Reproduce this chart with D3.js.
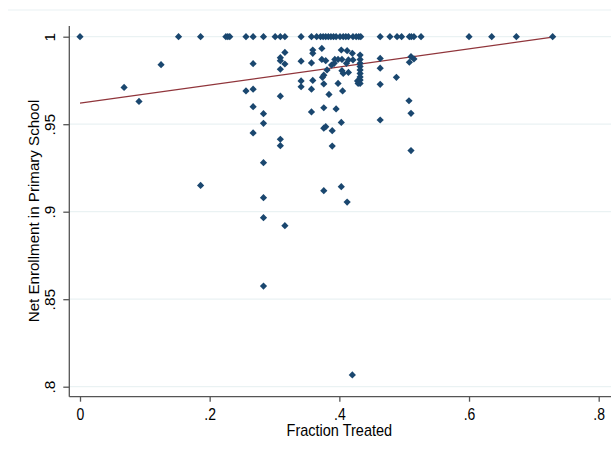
<!DOCTYPE html>
<html>
<head>
<meta charset="utf-8">
<script src="https://cdn.jsdelivr.net/npm/d3@7"></script>
<style>
  body { margin: 0; background: #fff; }
  text { font-family: "Liberation Sans", Arial, sans-serif; fill: #000; }
</style>
</head>
<body>
<div class="scatter-plot"></div>
<script>
// points sitting on the top row (enrollment = 1)
const topRowFrac = [0, 0.152, 0.186, 0.225, 0.228, 0.231, 0.256, 0.267, 0.283, 0.301, 0.309, 0.316,
    0.341, 0.357, 0.365, 0.371, 0.375, 0.379, 0.383, 0.387, 0.391, 0.395, 0.401, 0.406, 0.410,
    0.414, 0.421, 0.426, 0.430, 0.433, 0.463, 0.478, 0.489, 0.496, 0.508, 0.511, 0.515, 0.526,
    0.600, 0.635, 0.673, 0.729];

// remaining points
const fracTreated = [0.068, 0.091, 0.125, 0.186,
    0.256, 0.267, 0.267, 0.267, 0.267,
    0.283, 0.283, 0.283, 0.283, 0.283, 0.283,
    0.309, 0.309, 0.309, 0.309, 0.309, 0.309,
    0.316, 0.316, 0.316,
    0.341, 0.341, 0.341,
    0.359, 0.359, 0.357, 0.359, 0.357, 0.357,
    0.373, 0.373, 0.379, 0.381, 0.376, 0.374, 0.376, 0.384, 0.376, 0.376, 0.379, 0.389, 0.389, 0.395, 0.376,
    0.388, 0.393, 0.398, 0.392, 0.398,
    0.403, 0.412, 0.420,
    0.404, 0.414, 0.421, 0.411, 0.404, 0.406, 0.414, 0.405, 0.403, 0.403, 0.412, 0.420,
    0.432, 0.432, 0.432, 0.432, 0.432, 0.432, 0.432, 0.432, 0.432, 0.428, 0.429,
    0.463, 0.463, 0.463, 0.463, 0.488,
    0.508, 0.5105, 0.515, 0.5074, 0.5105, 0.5105];
const enrollment = [0.971, 0.963, 0.984, 0.915,
    0.969, 0.9846, 0.970, 0.960, 0.945,
    0.956, 0.9505, 0.928, 0.908, 0.8966, 0.8575,
    0.988, 0.9863, 0.9814, 0.966, 0.9414, 0.9377,
    0.991, 0.9844, 0.892,
    0.986, 0.9747, 0.9714,
    0.9924, 0.9905, 0.985, 0.975, 0.970, 0.957,
    0.9933, 0.987, 0.9863, 0.981, 0.978, 0.9768, 0.973, 0.967, 0.9594, 0.9477, 0.9486, 0.9463, 0.9375, 0.9587, 0.912,
    0.9838, 0.987, 0.987, 0.9848, 0.9733,
    0.9924, 0.992, 0.9905,
    0.987, 0.9867, 0.9867, 0.9848, 0.9806, 0.979, 0.9796, 0.969, 0.951, 0.9143, 0.9055, 0.8067,
    0.9895, 0.987, 0.9848, 0.983, 0.981, 0.979, 0.977, 0.9752, 0.9733, 0.9747, 0.9733,
    0.9876, 0.982, 0.9728, 0.9524, 0.9768,
    0.9854, 0.9886, 0.9873, 0.9634, 0.9562, 0.9349];

// fitted line end points
const fitLine = [[0, 0.962], [0.729, 0.9998]];

const xTicks = [0, 0.2, 0.4, 0.6, 0.8];
const xTickLabels = ['0', '.2', '.4', '.6', '.8'];
const yTicks = [0.8, 0.85, 0.9, 0.95, 1];
const yTickLabels = ['.8', '.85', '.9', '.95', '1'];

const points = topRowFrac.map(f => ({ x: f, y: 1 }))
    .concat(fracTreated.map((f, i) => ({ x: f, y: enrollment[i] })));

const width = 611;
const height = 452;
const svg = d3.select('.scatter-plot')
    .append('svg')
    .attr('width', width)
    .attr('height', height);

const x = d3.scaleLinear().domain([0, 0.8]).range([80, 598.7]);
const y = d3.scaleLinear().domain([0.8, 1]).range([386.7, 36.7]);
const axisLeftX = 69.3;
const axisBottomY = 396.7;

// faint frame line at the top
svg.append('line')
    .attr('x1', 8).attr('x2', width)
    .attr('y1', 10).attr('y2', 10)
    .attr('stroke', '#eaf2f3')
    .attr('stroke-width', 1.2);

// gridlines
svg.selectAll('.grid')
    .data(yTicks)
    .enter()
    .append('line')
    .attr('x1', axisLeftX).attr('x2', width)
    .attr('y1', d => y(d)).attr('y2', d => y(d))
    .attr('stroke', '#eaf2f3')
    .attr('stroke-width', 1.2);

// axes
const xAxis = svg.append('g')
    .attr('transform', `translate(0,${axisBottomY})`)
    .call(d3.axisBottom(x).tickValues(xTicks).tickSize(5).tickFormat((d, i) => xTickLabels[i]));
const yAxis = svg.append('g')
    .attr('transform', `translate(${axisLeftX},0)`)
    .call(d3.axisLeft(y).tickValues(yTicks).tickSize(6).tickFormat((d, i) => yTickLabels[i]));

[xAxis, yAxis].forEach(a => {
    a.select('.domain').remove();
    a.selectAll('.tick line').attr('stroke', '#555').attr('stroke-width', 1.3);
});
xAxis.selectAll('.tick text')
    .attr('y', 0)
    .attr('dy', 0)
    .attr('font-size', 14)
    .attr('fill', '#000')
    .attr('transform', 'translate(0,23) scale(1,1.12)');
yAxis.selectAll('.tick text')
    .attr('x', 0)
    .attr('dy', 0)
    .attr('font-size', 14)
    .attr('fill', '#000')
    .attr('text-anchor', 'middle')
    .attr('transform', 'translate(-14,0) rotate(-90) scale(1.1,1)');

svg.append('line')
    .attr('x1', axisLeftX).attr('x2', axisLeftX)
    .attr('y1', 26).attr('y2', axisBottomY)
    .attr('stroke', '#555').attr('stroke-width', 1.3);
svg.append('line')
    .attr('x1', axisLeftX).attr('x2', width)
    .attr('y1', axisBottomY).attr('y2', axisBottomY)
    .attr('stroke', '#555').attr('stroke-width', 1.3);

// axis titles
svg.append('text')
    .attr('text-anchor', 'middle')
    .attr('font-size', 14.5)
    .attr('transform', `translate(${x(0.4)},436) scale(1,1.1)`)
    .text('Fraction Treated');
svg.append('text')
    .attr('text-anchor', 'middle')
    .attr('font-size', 14)
    .attr('transform', 'translate(39,211) rotate(-90) scale(1.08,1)')
    .text('Net Enrollment in Primary School');

// fit line
svg.append('path')
    .datum(fitLine)
    .attr('d', d3.line().x(d => x(d[0])).y(d => y(d[1])))
    .attr('fill', 'none')
    .attr('stroke', '#90353b')
    .attr('stroke-width', 1.2);

// markers
svg.selectAll('.pt')
    .data(points)
    .enter()
    .append('path')
    .attr('d', d3.symbol(d3.symbolSquare, 26))
    .attr('transform', d => `translate(${x(d.x)},${y(d.y)}) rotate(45)`)
    .attr('fill', '#1a476f');
</script>
</body>
</html>
